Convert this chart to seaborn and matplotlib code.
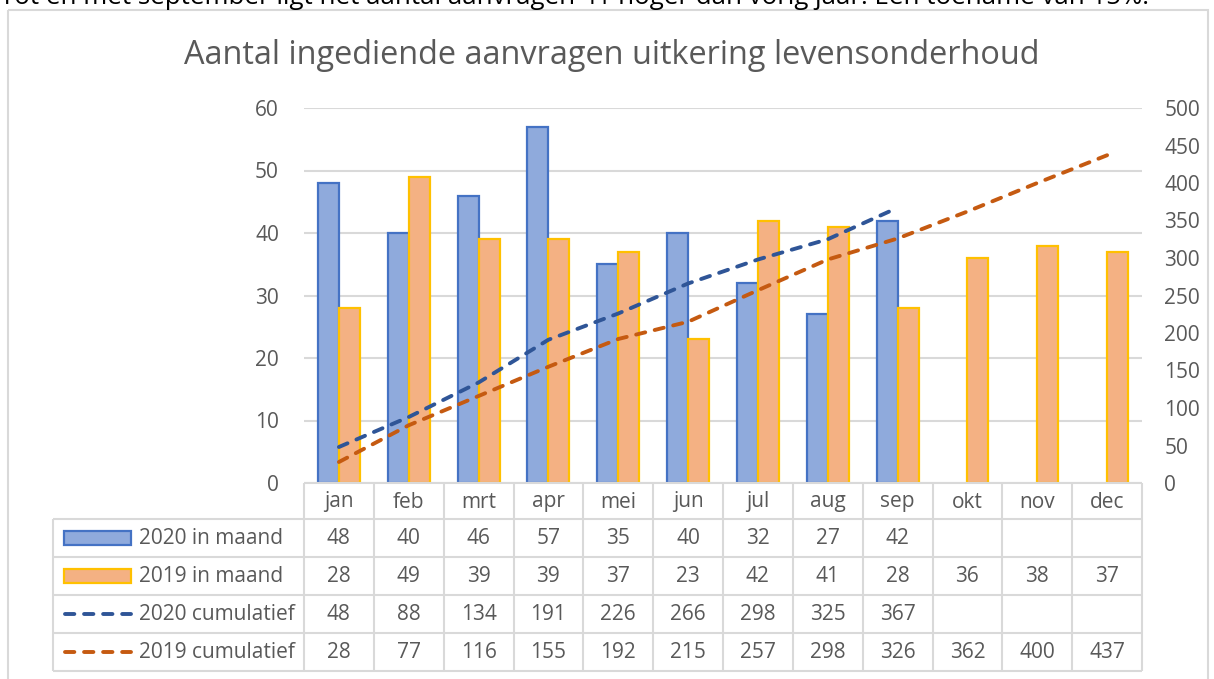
import matplotlib.pyplot as plt
import pandas as pd
import seaborn as sns
from matplotlib.patches import Rectangle
from matplotlib.lines import Line2D

months = ["jan", "feb", "mrt", "apr", "mei", "jun", "jul", "aug", "sep", "okt", "nov", "dec"]
maand_2020 = [48, 40, 46, 57, 35, 40, 32, 27, 42]
maand_2019 = [28, 49, 39, 39, 37, 23, 42, 41, 28, 36, 38, 37]
cum_2020 = [48, 88, 134, 191, 226, 266, 298, 325, 367]
cum_2019 = [28, 77, 116, 155, 192, 215, 257, 298, 326, 362, 400, 437]
series = ["2020 in maand", "2019 in maand", "2020 cumulatief", "2019 cumulatief"]

title = "Aantal ingediende aanvragen uitkering levensonderhoud"
note = "Tot en met september ligt het aantal aanvragen 41 hoger dan vorig jaar. Een toename van 15%."

blue_fill, blue_edge = "#8FAADC", "#4472C4"
orange_fill, orange_edge = "#F4B183", "#FFC000"
blue_line, orange_line = "#2F5597", "#C55A11"
grid_col = "#D9D9D9"
txt_col = "#595959"

sns.set_style("white")
plt.rcParams["font.family"] = ["Open Sans", "DejaVu Sans"]

W, H = 1214, 679
fig = plt.figure(figsize=(W / 100, H / 100), dpi=100)

# plot area in pixels
x0, x1, ytop, ybot = 304, 1142, 108, 483
ax = fig.add_axes([x0 / W, 1 - ybot / H, (x1 - x0) / W, (ybot - ytop) / H])

bars = pd.DataFrame({
    "maand": months[:len(maand_2020)] + months,
    "reeks": [series[0]] * len(maand_2020) + [series[1]] * len(maand_2019),
    "waarde": maand_2020 + maand_2019,
})
sns.barplot(data=bars, x="maand", y="waarde", hue="reeks", order=months,
            hue_order=series[:2], palette=[blue_fill, orange_fill], saturation=1,
            width=0.6, errorbar=None, ax=ax, legend=False, zorder=2)
for cont, ec in zip(ax.containers, [blue_edge, orange_edge]):
    for p in cont:
        p.set_edgecolor(ec)
        p.set_linewidth(1.6)

ax.set_xlim(-0.5, 11.5)
ax.set_ylim(0, 60)
ax.set_yticks(range(0, 61, 10))
ax.yaxis.grid(True, color=grid_col, lw=1.5)
ax.set_axisbelow(True)
ax.set_xlabel("")
ax.set_ylabel("")
ax.set_xticks([])
for s in ax.spines.values():
    s.set_visible(False)
ax.tick_params(axis="y", length=0, pad=18, labelsize=15, labelcolor=txt_col)

ax2 = ax.twinx()
lw = 2.8
dash = (0, (2.4, 2.5))
sns.lineplot(x=list(range(len(cum_2020))), y=cum_2020, ax=ax2, color=blue_line,
             linewidth=lw, linestyle=dash, dash_capstyle="round")
sns.lineplot(x=list(range(len(cum_2019))), y=cum_2019, ax=ax2, color=orange_line,
             linewidth=lw, linestyle=dash, dash_capstyle="round")
ax2.set_ylim(0, 500)
ax2.set_yticks(range(0, 501, 50))
ax2.grid(False)
for s in ax2.spines.values():
    s.set_visible(False)
ax2.tick_params(axis="y", length=0, pad=16, labelsize=15, labelcolor=txt_col)

# overlay in pixel coordinates for title, note and border
ov = fig.add_axes([0, 0, 1, 1], zorder=-1)
ov.set_xlim(0, W)
ov.set_ylim(H, 0)
ov.axis("off")

ov.add_patch(Rectangle((8, 10), 1200, 700, fill=False, ec=grid_col, lw=1.5))
ov.text(0, 4, note, fontsize=18.6, color="black", va="baseline", ha="left")
ov.text(612, 55, title, fontsize=23.4, color=txt_col, ha="center", va="center")

# data table
cw = (x1 - x0) / len(months)
lx = 53
rows_y = [483, 519, 557, 595, 633, 671]
tab = fig.add_axes([0, 0, 1, 1], zorder=3)
tab.set_xlim(0, W)
tab.set_ylim(H, 0)
tab.axis("off")
lk = dict(color=grid_col, lw=1.5, solid_capstyle="butt")
tab.plot([x0, x1], [rows_y[0]] * 2, **lk)
for y in rows_y[1:]:
    tab.plot([lx, x1], [y, y], **lk)
for i in range(len(months) + 1):
    tab.plot([x0 + i * cw] * 2, [rows_y[0], rows_y[-1]], **lk)
tab.plot([lx, lx], [rows_y[1], rows_y[-1]], **lk)

tk = dict(fontsize=15, color=txt_col, ha="center", va="center")
for i, m in enumerate(months):
    tab.text(x0 + (i + 0.5) * cw, (rows_y[0] + rows_y[1]) / 2 + 1, m, **tk)
for r, vals in enumerate([maand_2020, maand_2019, cum_2020, cum_2019]):
    yc = (rows_y[r + 1] + rows_y[r + 2]) / 2
    for i, v in enumerate(vals):
        tab.text(x0 + (i + 0.5) * cw, yc, str(v), **tk)
    tab.text(139, yc, series[r], fontsize=15, color=txt_col, ha="left", va="center")
    if r < 2:
        fc, ec = [(blue_fill, blue_edge), (orange_fill, orange_edge)][r]
        tab.add_patch(Rectangle((64, yc - 7), 67, 14, fc=fc, ec=ec, lw=1.6))
    else:
        lc = [blue_line, orange_line][r - 2]
        tab.add_line(Line2D([65, 131], [yc, yc], color=lc, lw=lw,
                            linestyle=dash, dash_capstyle="round"))

fig.savefig("out.png", dpi=100)
